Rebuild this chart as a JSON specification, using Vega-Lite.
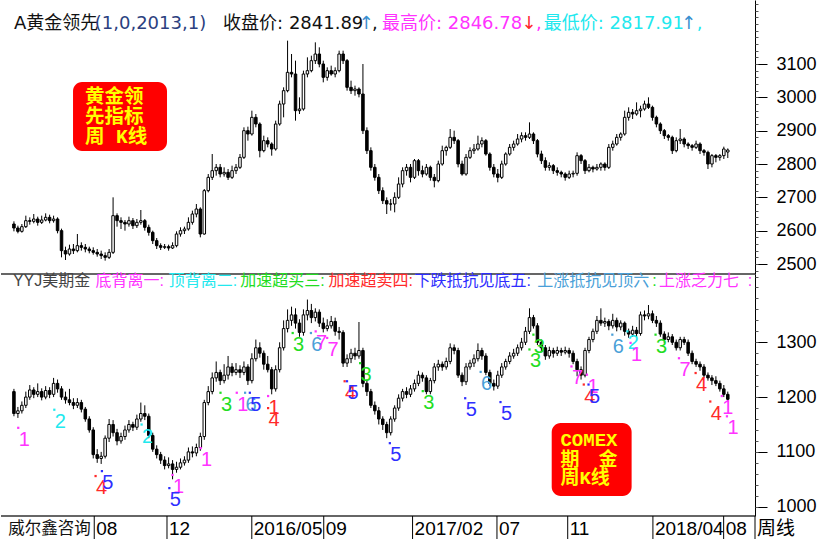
{
"$schema": "https://vega.github.io/schema/vega-lite/v6.json",
"padding": 0,
"background": "white",
"config": {"view": {"stroke": null}, "font": "Liberation Sans"},
"spacing": 0,
"bounds": "flush",
"datasets": {
"k": [
{"i":0,"o":2620,"h":2628,"l":2598,"c":2608,"O":1210,"H":1215,"L":1165,"C":1170},
{"i":1,"o":2608,"h":2615,"l":2592,"c":2598,"O":1170,"H":1182,"L":1162,"C":1175},
{"i":2,"o":2598,"h":2620,"l":2594,"c":2612,"O":1175,"H":1192,"L":1170,"C":1185},
{"i":3,"o":2612,"h":2645,"l":2608,"c":2630,"O":1185,"H":1210,"L":1180,"C":1200},
{"i":4,"o":2630,"h":2640,"l":2618,"c":2628,"O":1200,"H":1222,"L":1195,"C":1213},
{"i":5,"o":2628,"h":2650,"l":2622,"c":2635,"O":1213,"H":1218,"L":1198,"C":1205},
{"i":6,"o":2635,"h":2642,"l":2615,"c":2625,"O":1205,"H":1225,"L":1200,"C":1210},
{"i":7,"o":2625,"h":2645,"l":2620,"c":2632,"O":1210,"H":1216,"L":1194,"C":1200},
{"i":8,"o":2632,"h":2652,"l":2628,"c":2640,"O":1200,"H":1220,"L":1196,"C":1212},
{"i":9,"o":2640,"h":2648,"l":2622,"c":2630,"O":1212,"H":1218,"L":1198,"C":1205},
{"i":10,"o":2630,"h":2645,"l":2624,"c":2635,"O":1205,"H":1235,"L":1200,"C":1225},
{"i":11,"o":2635,"h":2640,"l":2592,"c":2600,"O":1225,"H":1232,"L":1208,"C":1215},
{"i":12,"o":2600,"h":2606,"l":2520,"c":2540,"O":1215,"H":1220,"L":1195,"C":1200},
{"i":13,"o":2540,"h":2552,"l":2512,"c":2530,"O":1200,"H":1210,"L":1188,"C":1195},
{"i":14,"o":2530,"h":2558,"l":2525,"c":2545,"O":1195,"H":1215,"L":1185,"C":1190},
{"i":15,"o":2545,"h":2560,"l":2530,"c":2540,"O":1190,"H":1198,"L":1178,"C":1185},
{"i":16,"o":2540,"h":2590,"l":2535,"c":2555,"O":1185,"H":1198,"L":1180,"C":1190},
{"i":17,"o":2555,"h":2565,"l":2540,"c":2550,"O":1190,"H":1195,"L":1172,"C":1178},
{"i":18,"o":2550,"h":2560,"l":2535,"c":2545,"O":1178,"H":1182,"L":1155,"C":1160},
{"i":19,"o":2545,"h":2552,"l":2532,"c":2540,"O":1160,"H":1165,"L":1135,"C":1140},
{"i":20,"o":2540,"h":2550,"l":2528,"c":2535,"O":1140,"H":1145,"L":1088,"C":1095},
{"i":21,"o":2535,"h":2545,"l":2522,"c":2530,"O":1095,"H":1105,"L":1080,"C":1088},
{"i":22,"o":2530,"h":2540,"l":2515,"c":2525,"O":1088,"H":1100,"L":1078,"C":1092},
{"i":23,"o":2525,"h":2535,"l":2510,"c":2520,"O":1092,"H":1130,"L":1088,"C":1125},
{"i":24,"o":2520,"h":2545,"l":2515,"c":2535,"O":1125,"H":1160,"L":1118,"C":1150},
{"i":25,"o":2535,"h":2700,"l":2530,"c":2645,"O":1150,"H":1158,"L":1128,"C":1135},
{"i":26,"o":2645,"h":2652,"l":2612,"c":2630,"O":1135,"H":1142,"L":1112,"C":1120},
{"i":27,"o":2630,"h":2640,"l":2605,"c":2625,"O":1120,"H":1135,"L":1115,"C":1128},
{"i":28,"o":2625,"h":2632,"l":2600,"c":2620,"O":1128,"H":1148,"L":1122,"C":1140},
{"i":29,"o":2620,"h":2642,"l":2612,"c":2630,"O":1140,"H":1158,"L":1135,"C":1150},
{"i":30,"o":2630,"h":2638,"l":2605,"c":2615,"O":1150,"H":1155,"L":1138,"C":1145},
{"i":31,"o":2615,"h":2635,"l":2608,"c":2625,"O":1145,"H":1168,"L":1140,"C":1160},
{"i":32,"o":2625,"h":2662,"l":2618,"c":2630,"O":1160,"H":1190,"L":1155,"C":1170},
{"i":33,"o":2630,"h":2635,"l":2600,"c":2610,"O":1170,"H":1185,"L":1158,"C":1165},
{"i":34,"o":2610,"h":2618,"l":2585,"c":2595,"O":1165,"H":1170,"L":1125,"C":1130},
{"i":35,"o":2595,"h":2600,"l":2560,"c":2570,"O":1130,"H":1135,"L":1100,"C":1105},
{"i":36,"o":2570,"h":2578,"l":2545,"c":2555,"O":1105,"H":1112,"L":1088,"C":1095},
{"i":37,"o":2555,"h":2562,"l":2542,"c":2550,"O":1095,"H":1100,"L":1078,"C":1085},
{"i":38,"o":2550,"h":2560,"l":2545,"c":2552,"O":1085,"H":1092,"L":1068,"C":1075},
{"i":39,"o":2552,"h":2558,"l":2540,"c":2548,"O":1075,"H":1090,"L":1070,"C":1078},
{"i":40,"o":2548,"h":2565,"l":2545,"c":2555,"O":1078,"H":1085,"L":1050,"C":1068},
{"i":41,"o":2555,"h":2598,"l":2550,"c":2590,"O":1068,"H":1082,"L":1062,"C":1072},
{"i":42,"o":2590,"h":2610,"l":2582,"c":2600,"O":1072,"H":1088,"L":1068,"C":1080},
{"i":43,"o":2600,"h":2612,"l":2590,"c":2605,"O":1080,"H":1092,"L":1075,"C":1085},
{"i":44,"o":2605,"h":2640,"l":2600,"c":2625,"O":1085,"H":1108,"L":1080,"C":1100},
{"i":45,"o":2625,"h":2660,"l":2618,"c":2650,"O":1100,"H":1110,"L":1090,"C":1098},
{"i":46,"o":2650,"h":2680,"l":2640,"c":2665,"O":1098,"H":1115,"L":1092,"C":1108},
{"i":47,"o":2665,"h":2670,"l":2580,"c":2590,"O":1108,"H":1135,"L":1102,"C":1128},
{"i":48,"o":2590,"h":2725,"l":2588,"c":2720,"O":1128,"H":1195,"L":1122,"C":1190},
{"i":49,"o":2720,"h":2770,"l":2715,"c":2760,"O":1190,"H":1220,"L":1185,"C":1210},
{"i":50,"o":2760,"h":2830,"l":2752,"c":2780,"O":1210,"H":1245,"L":1205,"C":1235},
{"i":51,"o":2780,"h":2800,"l":2765,"c":2790,"O":1235,"H":1265,"L":1228,"C":1245},
{"i":52,"o":2790,"h":2800,"l":2760,"c":2770,"O":1245,"H":1250,"L":1222,"C":1230},
{"i":53,"o":2770,"h":2790,"l":2762,"c":2775,"O":1230,"H":1260,"L":1225,"C":1240},
{"i":54,"o":2775,"h":2785,"l":2752,"c":2760,"O":1240,"H":1275,"L":1232,"C":1255},
{"i":55,"o":2760,"h":2795,"l":2755,"c":2780,"O":1255,"H":1262,"L":1238,"C":1245},
{"i":56,"o":2780,"h":2800,"l":2770,"c":2790,"O":1245,"H":1262,"L":1240,"C":1250},
{"i":57,"o":2790,"h":2830,"l":2785,"c":2820,"O":1250,"H":1258,"L":1235,"C":1245},
{"i":58,"o":2820,"h":2910,"l":2815,"c":2900,"O":1245,"H":1265,"L":1240,"C":1255},
{"i":59,"o":2900,"h":2912,"l":2870,"c":2890,"O":1255,"H":1260,"L":1222,"C":1230},
{"i":60,"o":2890,"h":2960,"l":2885,"c":2940,"O":1230,"H":1280,"L":1225,"C":1270},
{"i":61,"o":2940,"h":2950,"l":2910,"c":2920,"O":1270,"H":1305,"L":1265,"C":1290},
{"i":62,"o":2920,"h":2925,"l":2820,"c":2840,"O":1290,"H":1300,"L":1272,"C":1280},
{"i":63,"o":2840,"h":2885,"l":2835,"c":2870,"O":1280,"H":1285,"L":1250,"C":1260},
{"i":64,"o":2870,"h":2880,"l":2850,"c":2860,"O":1260,"H":1275,"L":1245,"C":1250},
{"i":65,"o":2860,"h":2865,"l":2825,"c":2845,"O":1250,"H":1255,"L":1205,"C":1215},
{"i":66,"o":2845,"h":2930,"l":2840,"c":2920,"O":1215,"H":1258,"L":1210,"C":1250},
{"i":67,"o":2920,"h":2990,"l":2915,"c":2980,"O":1250,"H":1300,"L":1245,"C":1290},
{"i":68,"o":2980,"h":3030,"l":2940,"c":3020,"O":1290,"H":1340,"L":1285,"C":1325},
{"i":69,"o":3020,"h":3170,"l":3015,"c":3075,"O":1325,"H":1360,"L":1318,"C":1340},
{"i":70,"o":3075,"h":3130,"l":3060,"c":3070,"O":1340,"H":1365,"L":1330,"C":1350},
{"i":71,"o":3070,"h":3110,"l":2930,"c":2960,"O":1350,"H":1362,"L":1325,"C":1335},
{"i":72,"o":2960,"h":3000,"l":2950,"c":2965,"O":1335,"H":1342,"L":1310,"C":1318},
{"i":73,"o":2965,"h":3080,"l":2960,"c":3070,"O":1318,"H":1360,"L":1312,"C":1350},
{"i":74,"o":3070,"h":3120,"l":3060,"c":3080,"O":1350,"H":1378,"L":1340,"C":1358},
{"i":75,"o":3080,"h":3125,"l":3075,"c":3110,"O":1358,"H":1370,"L":1335,"C":1345},
{"i":76,"o":3110,"h":3165,"l":3100,"c":3130,"O":1345,"H":1362,"L":1338,"C":1355},
{"i":77,"o":3130,"h":3150,"l":3090,"c":3100,"O":1355,"H":1360,"L":1328,"C":1335},
{"i":78,"o":3100,"h":3110,"l":3045,"c":3060,"O":1335,"H":1345,"L":1318,"C":1325},
{"i":79,"o":3060,"h":3090,"l":3050,"c":3080,"O":1325,"H":1342,"L":1320,"C":1330},
{"i":80,"o":3080,"h":3095,"l":3065,"c":3070,"O":1330,"H":1348,"L":1325,"C":1338},
{"i":81,"o":3070,"h":3090,"l":3060,"c":3080,"O":1338,"H":1345,"L":1312,"C":1320},
{"i":82,"o":3080,"h":3140,"l":3075,"c":3130,"O":1320,"H":1328,"L":1305,"C":1318},
{"i":83,"o":3130,"h":3140,"l":3100,"c":3110,"O":1318,"H":1322,"L":1255,"C":1262},
{"i":84,"o":3110,"h":3115,"l":3020,"c":3030,"O":1262,"H":1278,"L":1255,"C":1270},
{"i":85,"o":3030,"h":3050,"l":3010,"c":3020,"O":1270,"H":1288,"L":1262,"C":1280},
{"i":86,"o":3020,"h":3035,"l":3005,"c":3025,"O":1280,"H":1290,"L":1268,"C":1275},
{"i":87,"o":3025,"h":3030,"l":3000,"c":3010,"O":1275,"H":1337,"L":1270,"C":1285},
{"i":88,"o":3010,"h":3100,"l":2890,"c":2900,"O":1285,"H":1290,"L":1218,"C":1225},
{"i":89,"o":2900,"h":2910,"l":2830,"c":2840,"O":1225,"H":1232,"L":1202,"C":1210},
{"i":90,"o":2840,"h":2850,"l":2780,"c":2790,"O":1210,"H":1215,"L":1180,"C":1185},
{"i":91,"o":2790,"h":2800,"l":2750,"c":2760,"O":1185,"H":1192,"L":1168,"C":1175},
{"i":92,"o":2760,"h":2770,"l":2710,"c":2720,"O":1175,"H":1182,"L":1150,"C":1160},
{"i":93,"o":2720,"h":2730,"l":2680,"c":2690,"O":1160,"H":1165,"L":1140,"C":1150},
{"i":94,"o":2690,"h":2700,"l":2650,"c":2680,"O":1150,"H":1155,"L":1125,"C":1135},
{"i":95,"o":2680,"h":2695,"l":2660,"c":2680,"O":1135,"H":1165,"L":1130,"C":1160},
{"i":96,"o":2680,"h":2715,"l":2655,"c":2700,"O":1160,"H":1185,"L":1155,"C":1180},
{"i":97,"o":2700,"h":2760,"l":2695,"c":2740,"O":1180,"H":1205,"L":1175,"C":1198},
{"i":98,"o":2740,"h":2790,"l":2730,"c":2780,"O":1198,"H":1215,"L":1192,"C":1210},
{"i":99,"o":2780,"h":2800,"l":2765,"c":2790,"O":1210,"H":1218,"L":1198,"C":1205},
{"i":100,"o":2790,"h":2800,"l":2745,"c":2760,"O":1205,"H":1222,"L":1200,"C":1215},
{"i":101,"o":2760,"h":2815,"l":2755,"c":2810,"O":1215,"H":1232,"L":1210,"C":1225},
{"i":102,"o":2810,"h":2815,"l":2765,"c":2780,"O":1225,"H":1248,"L":1220,"C":1240},
{"i":103,"o":2780,"h":2795,"l":2760,"c":2770,"O":1240,"H":1245,"L":1228,"C":1235},
{"i":104,"o":2770,"h":2800,"l":2765,"c":2790,"O":1235,"H":1240,"L":1205,"C":1210},
{"i":105,"o":2790,"h":2795,"l":2750,"c":2760,"O":1210,"H":1235,"L":1205,"C":1230},
{"i":106,"o":2760,"h":2770,"l":2730,"c":2750,"O":1230,"H":1262,"L":1225,"C":1255},
{"i":107,"o":2750,"h":2810,"l":2745,"c":2800,"O":1255,"H":1268,"L":1248,"C":1260},
{"i":108,"o":2800,"h":2855,"l":2795,"c":2840,"O":1260,"H":1265,"L":1248,"C":1255},
{"i":109,"o":2840,"h":2855,"l":2825,"c":2850,"O":1255,"H":1272,"L":1250,"C":1265},
{"i":110,"o":2850,"h":2905,"l":2845,"c":2880,"O":1265,"H":1298,"L":1260,"C":1290},
{"i":111,"o":2880,"h":2900,"l":2860,"c":2870,"O":1290,"H":1296,"L":1278,"C":1285},
{"i":112,"o":2870,"h":2875,"l":2790,"c":2800,"O":1285,"H":1290,"L":1235,"C":1240},
{"i":113,"o":2800,"h":2810,"l":2765,"c":2770,"O":1240,"H":1245,"L":1220,"C":1228},
{"i":114,"o":2770,"h":2830,"l":2765,"c":2820,"O":1228,"H":1262,"L":1222,"C":1255},
{"i":115,"o":2820,"h":2850,"l":2815,"c":2840,"O":1255,"H":1268,"L":1250,"C":1262},
{"i":116,"o":2840,"h":2860,"l":2830,"c":2845,"O":1262,"H":1278,"L":1255,"C":1270},
{"i":117,"o":2845,"h":2885,"l":2840,"c":2860,"O":1270,"H":1298,"L":1265,"C":1285},
{"i":118,"o":2860,"h":2880,"l":2850,"c":2870,"O":1285,"H":1290,"L":1268,"C":1275},
{"i":119,"o":2870,"h":2875,"l":2825,"c":2830,"O":1275,"H":1280,"L":1240,"C":1245},
{"i":120,"o":2830,"h":2835,"l":2780,"c":2790,"O":1245,"H":1250,"L":1220,"C":1225},
{"i":121,"o":2790,"h":2800,"l":2760,"c":2770,"O":1225,"H":1232,"L":1212,"C":1220},
{"i":122,"o":2770,"h":2785,"l":2745,"c":2760,"O":1220,"H":1248,"L":1215,"C":1240},
{"i":123,"o":2760,"h":2810,"l":2755,"c":2800,"O":1240,"H":1262,"L":1235,"C":1255},
{"i":124,"o":2800,"h":2835,"l":2795,"c":2830,"O":1255,"H":1270,"L":1250,"C":1265},
{"i":125,"o":2830,"h":2860,"l":2825,"c":2850,"O":1265,"H":1282,"L":1260,"C":1275},
{"i":126,"o":2850,"h":2870,"l":2840,"c":2860,"O":1275,"H":1288,"L":1270,"C":1280},
{"i":127,"o":2860,"h":2890,"l":2855,"c":2875,"O":1280,"H":1296,"L":1275,"C":1290},
{"i":128,"o":2875,"h":2895,"l":2865,"c":2885,"O":1290,"H":1308,"L":1285,"C":1300},
{"i":129,"o":2885,"h":2895,"l":2870,"c":2880,"O":1300,"H":1328,"L":1295,"C":1320},
{"i":130,"o":2880,"h":2925,"l":2875,"c":2890,"O":1320,"H":1362,"L":1315,"C":1345},
{"i":131,"o":2890,"h":2895,"l":2860,"c":2870,"O":1345,"H":1350,"L":1325,"C":1330},
{"i":132,"o":2870,"h":2875,"l":2820,"c":2830,"O":1330,"H":1335,"L":1295,"C":1300},
{"i":133,"o":2830,"h":2840,"l":2800,"c":2810,"O":1300,"H":1305,"L":1282,"C":1290},
{"i":134,"o":2810,"h":2820,"l":2780,"c":2790,"O":1290,"H":1295,"L":1268,"C":1275},
{"i":135,"o":2790,"h":2805,"l":2780,"c":2795,"O":1275,"H":1292,"L":1270,"C":1285},
{"i":136,"o":2795,"h":2800,"l":2770,"c":2780,"O":1285,"H":1290,"L":1272,"C":1280},
{"i":137,"o":2780,"h":2790,"l":2765,"c":2775,"O":1280,"H":1292,"L":1275,"C":1285},
{"i":138,"o":2775,"h":2780,"l":2760,"c":2770,"O":1285,"H":1290,"L":1275,"C":1282},
{"i":139,"o":2770,"h":2775,"l":2750,"c":2760,"O":1282,"H":1292,"L":1278,"C":1285},
{"i":140,"o":2760,"h":2780,"l":2755,"c":2770,"O":1285,"H":1290,"L":1272,"C":1280},
{"i":141,"o":2770,"h":2780,"l":2760,"c":2772,"O":1280,"H":1285,"L":1260,"C":1265},
{"i":142,"o":2772,"h":2835,"l":2765,"c":2825,"O":1265,"H":1270,"L":1238,"C":1250},
{"i":143,"o":2825,"h":2830,"l":2800,"c":2810,"O":1250,"H":1256,"L":1232,"C":1240},
{"i":144,"o":2810,"h":2815,"l":2770,"c":2780,"O":1240,"H":1290,"L":1236,"C":1285},
{"i":145,"o":2780,"h":2800,"l":2775,"c":2790,"O":1285,"H":1310,"L":1280,"C":1305},
{"i":146,"o":2790,"h":2795,"l":2775,"c":2785,"O":1305,"H":1325,"L":1300,"C":1320},
{"i":147,"o":2785,"h":2800,"l":2780,"c":2790,"O":1320,"H":1348,"L":1315,"C":1340},
{"i":148,"o":2790,"h":2805,"l":2780,"c":2800,"O":1340,"H":1362,"L":1330,"C":1335},
{"i":149,"o":2800,"h":2805,"l":2780,"c":2790,"O":1335,"H":1345,"L":1328,"C":1338},
{"i":150,"o":2790,"h":2860,"l":2785,"c":2850,"O":1338,"H":1342,"L":1322,"C":1330},
{"i":151,"o":2850,"h":2870,"l":2840,"c":2860,"O":1330,"H":1352,"L":1325,"C":1340},
{"i":152,"o":2860,"h":2890,"l":2855,"c":2880,"O":1340,"H":1345,"L":1320,"C":1328},
{"i":153,"o":2880,"h":2895,"l":2870,"c":2890,"O":1328,"H":1340,"L":1322,"C":1335},
{"i":154,"o":2890,"h":2960,"l":2885,"c":2940,"O":1335,"H":1338,"L":1312,"C":1320},
{"i":155,"o":2940,"h":2970,"l":2930,"c":2955,"O":1320,"H":1325,"L":1308,"C":1315},
{"i":156,"o":2955,"h":2965,"l":2935,"c":2950,"O":1315,"H":1330,"L":1310,"C":1322},
{"i":157,"o":2950,"h":2985,"l":2945,"c":2960,"O":1322,"H":1328,"L":1310,"C":1316},
{"i":158,"o":2960,"h":2975,"l":2940,"c":2965,"O":1316,"H":1356,"L":1312,"C":1350},
{"i":159,"o":2965,"h":2990,"l":2960,"c":2980,"O":1350,"H":1358,"L":1340,"C":1348},
{"i":160,"o":2980,"h":3000,"l":2965,"c":2970,"O":1348,"H":1368,"L":1342,"C":1352},
{"i":161,"o":2970,"h":2975,"l":2930,"c":2940,"O":1352,"H":1358,"L":1335,"C":1340},
{"i":162,"o":2940,"h":2945,"l":2910,"c":2920,"O":1340,"H":1348,"L":1328,"C":1335},
{"i":163,"o":2920,"h":2925,"l":2890,"c":2900,"O":1335,"H":1340,"L":1310,"C":1315},
{"i":164,"o":2900,"h":2905,"l":2875,"c":2885,"O":1315,"H":1320,"L":1298,"C":1305},
{"i":165,"o":2885,"h":2890,"l":2870,"c":2880,"O":1305,"H":1318,"L":1300,"C":1310},
{"i":166,"o":2880,"h":2885,"l":2830,"c":2840,"O":1310,"H":1315,"L":1295,"C":1300},
{"i":167,"o":2840,"h":2880,"l":2835,"c":2870,"O":1300,"H":1305,"L":1285,"C":1290},
{"i":168,"o":2870,"h":2905,"l":2860,"c":2875,"O":1290,"H":1310,"L":1285,"C":1305},
{"i":169,"o":2875,"h":2880,"l":2850,"c":2860,"O":1305,"H":1310,"L":1295,"C":1300},
{"i":170,"o":2860,"h":2865,"l":2845,"c":2855,"O":1300,"H":1305,"L":1275,"C":1280},
{"i":171,"o":2855,"h":2860,"l":2840,"c":2850,"O":1280,"H":1285,"L":1260,"C":1265},
{"i":172,"o":2850,"h":2870,"l":2845,"c":2860,"O":1265,"H":1270,"L":1255,"C":1260},
{"i":173,"o":2860,"h":2865,"l":2830,"c":2840,"O":1260,"H":1265,"L":1248,"C":1255},
{"i":174,"o":2840,"h":2845,"l":2825,"c":2835,"O":1255,"H":1260,"L":1235,"C":1240},
{"i":175,"o":2835,"h":2840,"l":2785,"c":2800,"O":1240,"H":1245,"L":1230,"C":1235},
{"i":176,"o":2800,"h":2830,"l":2790,"c":2825,"O":1235,"H":1240,"L":1222,"C":1230},
{"i":177,"o":2825,"h":2830,"l":2805,"c":2820,"O":1230,"H":1238,"L":1220,"C":1225},
{"i":178,"o":2820,"h":2830,"l":2810,"c":2825,"O":1225,"H":1230,"L":1210,"C":1215},
{"i":179,"o":2825,"h":2852,"l":2815,"c":2845,"O":1215,"H":1222,"L":1200,"C":1205},
{"i":180,"o":2836,"h":2846.78,"l":2817.91,"c":2841.89,"O":1205,"H":1210,"L":1192,"C":1196}
],
"ann": [
{"i":2.6,"p":1122,"t":"1","k":"1","d":"1"},
{"i":11.7,"p":1155,"t":"2","k":"2","d":"2"},
{"i":22.1,"p":1034,"t":"4","k":"4","d":"4"},
{"i":23.7,"p":1043,"t":"5","k":"5","d":"5"},
{"i":33.7,"p":1128,"t":"2","k":"2","d":"2"},
{"i":41.5,"p":1036,"t":"1","k":"1","d":"1"},
{"i":40.7,"p":1012,"t":"5","k":"5","d":"5"},
{"i":48.6,"p":1085,"t":"1","k":"1","d":"1"},
{"i":53.6,"p":1186,"t":"3","k":"3","d":"3"},
{"i":57.7,"p":1186,"t":"1","k":"1","d":"1"},
{"i":59.8,"p":1186,"t":"6","k":"6","d":"6"},
{"i":61.0,"p":1186,"t":"5","k":"5","d":"5"},
{"i":65.6,"p":1180,"t":"1","k":"4","d":"1"},
{"i":65.6,"p":1158,"t":"4","k":"4","d":"4"},
{"i":71.8,"p":1295,"t":"3","k":"3","d":"3"},
{"i":76.4,"p":1295,"t":"6","k":"6","d":"6"},
{"i":77.6,"p":1298,"t":"7","k":"7","d":"7"},
{"i":80.5,"p":1286,"t":"7","k":"7","d":"7"},
{"i":84.9,"p":1207,"t":"4","k":"4","d":"4"},
{"i":85.5,"p":1207,"t":"5","k":"5","d":"5"},
{"i":88.8,"p":1240,"t":"3","k":"3","d":"3"},
{"i":96.3,"p":1094,"t":"5","k":"5","d":"5"},
{"i":104.6,"p":1189,"t":"3","k":"3","d":"3"},
{"i":115.3,"p":1176,"t":"5","k":"5","d":"5"},
{"i":119.2,"p":1224,"t":"6","k":"6","d":"6"},
{"i":124.2,"p":1169,"t":"5","k":"5","d":"5"},
{"i":132.5,"p":1292,"t":"3","k":"3","d":"3"},
{"i":131.5,"p":1265,"t":"3","k":"3","d":"3"},
{"i":142.1,"p":1234,"t":"7","k":"7","d":"7"},
{"i":146.0,"p":1219,"t":"1","k":"1","d":"1"},
{"i":145.2,"p":1201,"t":"4","k":"4","d":"4"},
{"i":146.4,"p":1201,"t":"5","k":"5","d":"5"},
{"i":152.4,"p":1292,"t":"6","k":"6","d":"6"},
{"i":156.2,"p":1298,"t":"2","k":"2","d":"2"},
{"i":157.0,"p":1277,"t":"1","k":"1","d":"1"},
{"i":163.3,"p":1292,"t":"3","k":"3","d":"3"},
{"i":169.2,"p":1249,"t":"7","k":"7","d":"7"},
{"i":173.4,"p":1222,"t":"4","k":"4","d":"4"},
{"i":177.1,"p":1170,"t":"4","k":"4","d":"4"},
{"i":180.0,"p":1180,"t":"1","k":"1","d":"1"},
{"i":181.3,"p":1143,"t":"1","k":"1","d":"1"}
],
"head1": [
{"i":0.0,"t":"A黄金领先","k":"n"},
{"i":20.39,"t":"(1,0,2013,1)","k":"a"},
{"i":52.74,"t":"收盘价: 2841.89","k":"n"},
{"i":90.31,"t":",","k":"n"},
{"i":92.8,"t":"最高价: 2846.78","k":"1"},
{"i":131.62,"t":",","k":"1"},
{"i":133.6,"t":"最低价: 2817.91","k":"2"},
{"i":172.18,"t":",","k":"2"}
],
"arrows": [
{"i":88.82,"t":"↑","k":"u"},
{"i":129.87,"t":"↓","k":"4"},
{"i":170.18,"t":"↑","k":"u"}
],
"head2": [
{"i":-0.26,"t":"YYJ美期金","k":"g"},
{"i":20.57,"t":"底背离一:","k":"1"},
{"i":39.05,"t":"顶背离二:","k":"2"},
{"i":57.04,"t":"加速超买三:","k":"3"},
{"i":79.29,"t":"加速超卖四:","k":"4"},
{"i":101.0,"t":"下跌抵抗见底五:","k":"5"},
{"i":131.94,"t":"上涨抵抗见顶六","k":"6"},
{"i":160.97,"t":":","k":"3"},
{"i":162.64,"t":"上涨乏力七","k":"7"},
{"i":185.04,"t":":","k":"7"}
],
"box": [
{"v":"t","x1":14.9,"x2":38.6,"y1":3046,"y2":2839},
{"v":"b","x1":135.6,"x2":155.75,"y1":1152.7,"y2":1019.5}
],
"boxtext": [
{"v":"t","i":17.9,"p":3002,"t":"黄金领"},
{"v":"t","i":17.9,"p":2941,"t":"先指标"},
{"v":"t","i":17.9,"p":2881,"t":"周 K线"},
{"v":"b","i":137.8,"p":1121.7,"t":"COMEX"},
{"v":"b","i":137.8,"p":1085.2,"t":"期　金"},
{"v":"b","i":137.8,"p":1052.3,"t":"周K线"}
],
"xl": [
{"i":-0.7,"t":"威尔鑫咨询","s":0},
{"i":21.2,"t":"08","s":1},
{"i":39.3,"t":"12","s":1},
{"i":60.4,"t":"2016/05","s":1},
{"i":78.3,"t":"09","s":1},
{"i":100.4,"t":"2017/02","s":1},
{"i":121.4,"t":"07","s":1},
{"i":139.0,"t":"11","s":1},
{"i":160.2,"t":"2018/04","s":1},
{"i":177.8,"t":"08","s":1},
{"i":185.6,"t":"周线","s":1}
]
},
"vconcat": [
{
"width": 754, "height": 274,
"resolve": {"axis": {"y": "independent"}},
"layer": [
{"data": {"name": "k"}, "mark": {"type": "rule", "color": "black", "strokeWidth": 1},
 "encoding": {
  "x": {"field": "i", "type": "quantitative", "scale": {"domain": [-2, 185.6], "nice": false, "zero": false}, "axis": null},
  "y": {"field": "l", "type": "quantitative", "scale": {"domain": [2470, 3292], "nice": false, "zero": false},
        "axis": {"orient": "right", "values": [2500,2600,2700,2800,2900,3000,3100], "format": "d", "title": null, "grid": false, "domainColor": "black", "tickColor": "black", "tickSize": 12, "labelPadding": 9, "labelFontSize": 18, "labelColor": "black", "labelFont": "Liberation Sans"}},
  "y2": {"field": "h"}}},
{"data": {"name": "k"}, "mark": {"type": "bar", "orient": "vertical", "size": 2.5, "stroke": "black", "strokeWidth": 1},
 "encoding": {
  "x": {"field": "i", "type": "quantitative"},
  "y": {"field": "o", "type": "quantitative",
        "axis": {"orient": "right", "values": [2480,2500,2520,2540,2560,2580,2600,2620,2640,2660,2680,2700,2720,2740,2760,2780,2800,2820,2840,2860,2880,2900,2920,2940,2960,2980,3000,3020,3040,3060,3080,3100,3120,3140,3160,3180,3200,3220,3240,3260,3280], "title": null, "labels": false, "domain": false, "grid": false, "tickSize": 3, "tickColor": "#555"}},
  "y2": {"field": "c"},
  "fill": {"condition": {"test": "datum.c < datum.o", "value": "black"}, "value": "white"}}},
{"data": {"name": "box"}, "transform": [{"filter": "datum.v == 't'"}], "mark": {"type": "rect", "color": "#ff0000", "cornerRadius": 9},
 "encoding": {"x": {"field": "x1", "type": "quantitative"}, "x2": {"field": "x2"}, "y": {"field": "y1", "type": "quantitative", "axis": null}, "y2": {"field": "y2"}}},
{"data": {"name": "boxtext"}, "transform": [{"filter": "datum.v == 't'"}], "mark": {"type": "text", "align": "left", "baseline": "middle", "font": "Liberation Mono, Noto Sans CJK SC", "fontSize": 19.5, "fontWeight": "bold", "color": "#ffff00"},
 "encoding": {"x": {"field": "i", "type": "quantitative"}, "y": {"field": "p", "type": "quantitative", "axis": null}, "text": {"field": "t"}}},
{"data": {"name": "head1"}, "mark": {"type": "text", "align": "left", "baseline": "middle", "font": "DejaVu Sans, Noto Sans CJK SC", "fontSize": 18},
 "encoding": {"x": {"field": "i", "type": "quantitative"}, "y": {"datum": 3219, "type": "quantitative", "axis": null}, "text": {"field": "t"},
  "color": {"field": "k", "type": "nominal", "legend": null, "scale": {"domain": ["1","2","3","4","5","6","7","n","g","a","u"], "range": ["#ff33ff","#22e8ee","#22dd22","#ff2a2a","#2e2eff","#4a9fd8","#ff33ff","#111111","#444444","#2c3f80","#3a8fd0"]}}}},
{"data": {"name": "arrows"}, "mark": {"type": "text", "align": "center", "baseline": "middle", "font": "DejaVu Sans", "fontSize": 18},
 "encoding": {"x": {"field": "i", "type": "quantitative"}, "y": {"datum": 3219, "type": "quantitative", "axis": null}, "text": {"field": "t"},
  "color": {"field": "k", "type": "nominal", "legend": null, "scale": {"domain": ["1","2","3","4","5","6","7","n","g","a","u"], "range": ["#ff33ff","#22e8ee","#22dd22","#ff2a2a","#2e2eff","#4a9fd8","#ff33ff","#111111","#444444","#2c3f80","#3a8fd0"]}}}},
{"data": {"values": [{}]}, "mark": {"type": "rule", "color": "#333", "strokeWidth": 1.5},
 "encoding": {"y": {"datum": 2470, "type": "quantitative", "axis": null}}}
]
},
{
"width": 754, "height": 242,
"resolve": {"axis": {"y": "independent"}},
"layer": [
{"data": {"name": "k"}, "mark": {"type": "rule", "color": "black", "strokeWidth": 1},
 "encoding": {
  "x": {"field": "i", "type": "quantitative", "scale": {"domain": [-2, 185.6], "nice": false, "zero": false}, "axis": null},
  "y": {"field": "L", "type": "quantitative", "scale": {"domain": [983, 1424.6], "nice": false, "zero": false},
        "axis": {"orient": "right", "values": [1000,1100,1200,1300], "format": "d", "title": null, "grid": false, "domainColor": "black", "tickColor": "black", "tickSize": 12, "labelPadding": 9, "labelFontSize": 18, "labelColor": "black", "labelFont": "Liberation Sans"}},
  "y2": {"field": "H"}}},
{"data": {"name": "k"}, "mark": {"type": "bar", "orient": "vertical", "size": 2.5, "stroke": "black", "strokeWidth": 1},
 "encoding": {
  "x": {"field": "i", "type": "quantitative"},
  "y": {"field": "O", "type": "quantitative",
        "axis": {"orient": "right", "values": [1000,1020,1040,1060,1080,1100,1120,1140,1160,1180,1200,1220,1240,1260,1280,1300,1320,1340,1360,1380,1400,1420], "title": null, "labels": false, "domain": false, "grid": false, "tickSize": 3, "tickColor": "#555"}},
  "y2": {"field": "C"},
  "fill": {"condition": {"test": "datum.C < datum.O", "value": "black"}, "value": "white"}}},
{"data": {"name": "ann"}, "mark": {"type": "point", "shape": "square", "filled": true, "size": 5, "opacity": 1, "xOffset": -6, "yOffset": -12},
 "encoding": {"x": {"field": "i", "type": "quantitative"}, "y": {"field": "p", "type": "quantitative", "axis": null},
  "color": {"field": "d", "type": "nominal", "legend": null, "scale": {"domain": ["1","2","3","4","5","6","7","n","g","a","u"], "range": ["#ff33ff","#22e8ee","#22dd22","#ff2a2a","#2e2eff","#4a9fd8","#ff33ff","#111111","#444444","#2c3f80","#3a8fd0"]}}}},
{"data": {"name": "ann"}, "mark": {"type": "text", "align": "center", "baseline": "middle", "font": "Liberation Sans", "fontSize": 20},
 "encoding": {"x": {"field": "i", "type": "quantitative"}, "y": {"field": "p", "type": "quantitative", "axis": null}, "text": {"field": "t"},
  "color": {"field": "k", "type": "nominal", "legend": null, "scale": {"domain": ["1","2","3","4","5","6","7","n","g","a","u"], "range": ["#ff33ff","#22e8ee","#22dd22","#ff2a2a","#2e2eff","#4a9fd8","#ff33ff","#111111","#444444","#2c3f80","#3a8fd0"]}}}},
{"data": {"name": "box"}, "transform": [{"filter": "datum.v == 'b'"}], "mark": {"type": "rect", "color": "#ff0000", "cornerRadius": 9},
 "encoding": {"x": {"field": "x1", "type": "quantitative"}, "x2": {"field": "x2"}, "y": {"field": "y1", "type": "quantitative", "axis": null}, "y2": {"field": "y2"}}},
{"data": {"name": "boxtext"}, "transform": [{"filter": "datum.v == 'b'"}], "mark": {"type": "text", "align": "left", "baseline": "middle", "font": "Liberation Mono, Noto Sans CJK SC", "fontSize": 19, "fontWeight": "bold", "color": "#ffff00"},
 "encoding": {"x": {"field": "i", "type": "quantitative"}, "y": {"field": "p", "type": "quantitative", "axis": null}, "text": {"field": "t"}}},
{"data": {"name": "head2"}, "mark": {"type": "text", "align": "left", "baseline": "middle", "font": "Liberation Sans, Noto Sans CJK SC", "fontSize": 16},
 "encoding": {"x": {"field": "i", "type": "quantitative"}, "y": {"datum": 1411.8, "type": "quantitative", "axis": null}, "text": {"field": "t"},
  "color": {"field": "k", "type": "nominal", "legend": null, "scale": {"domain": ["1","2","3","4","5","6","7","n","g","a","u"], "range": ["#ff33ff","#22e8ee","#22dd22","#ff2a2a","#2e2eff","#4a9fd8","#ff33ff","#111111","#444444","#2c3f80","#3a8fd0"]}}}},
{"data": {"values": [{}]}, "mark": {"type": "rule", "color": "#333", "strokeWidth": 1.5},
 "encoding": {"y": {"datum": 983, "type": "quantitative", "axis": null}}}
]
},
{
"width": 754, "height": 23,
"layer": [
{"data": {"name": "xl"}, "transform": [{"filter": "datum.s == 1"}], "mark": {"type": "rule", "color": "black", "strokeWidth": 1},
 "encoding": {"x": {"field": "i", "type": "quantitative", "scale": {"domain": [-2, 185.6], "nice": false, "zero": false}, "axis": null}}},
{"data": {"name": "xl"}, "transform": [{"filter": "datum.s == 1"}], "mark": {"type": "text", "align": "left", "baseline": "middle", "dx": 2, "dy": 1, "font": "Liberation Sans, Noto Sans CJK SC", "fontSize": 19, "color": "black"},
 "encoding": {"x": {"field": "i", "type": "quantitative"}, "text": {"field": "t"}}},
{"data": {"name": "xl"}, "transform": [{"filter": "datum.s == 0"}], "mark": {"type": "text", "align": "left", "baseline": "middle", "dx": 2, "dy": 1, "font": "Noto Sans CJK SC", "fontSize": 16.5, "color": "#111"},
 "encoding": {"x": {"field": "i", "type": "quantitative"}, "text": {"field": "t"}}}
]
}
]
}
